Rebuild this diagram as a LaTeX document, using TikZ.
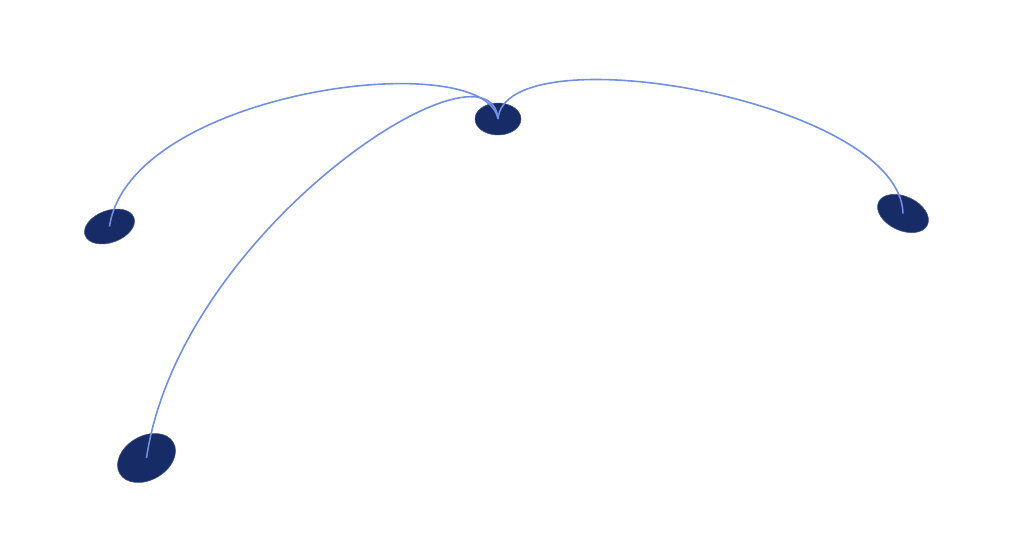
\documentclass[tikz,border=0pt]{standalone}
\usepackage{tikz}
\usetikzlibrary{shapes.geometric, positioning}
\definecolor{blobnavy}{RGB}{23,43,102}
\definecolor{linkblue}{RGB}{112,142,226}
\tikzset{
    blob/.style={ellipse, fill=blobnavy, draw=blobnavy!80!white, line width=0.3pt, inner sep=0pt},
    link/.style={draw=linkblue, line width=0.9pt}
}
\begin{document}
\begin{tikzpicture}[x=0.02cm, y=-0.02cm]
        \useasboundingbox (0,0) rectangle (1010,557);

        % Blobs
        \node (hub) [blob, minimum width=0.92cm, minimum height=0.64cm] at (498,119) {};
        \node (left) [blob, minimum width=1.04cm, minimum height=0.64cm, rotate=20] at (109.5,226.5) {};
        \node (low) [blob, minimum width=1.24cm, minimum height=0.88cm, rotate=30] at (146.5,458) {};
        \node (right) [blob, minimum width=1.08cm, minimum height=0.68cm, rotate=-25] at (903,213.5) {};

        % Links from the hub
        \draw[link] (hub.center) .. controls (485,45) and (130,90) .. (left.center);
        \draw[link] (hub.center) .. controls (490,28) and (180,230) .. (low.center);
        \draw[link] (hub.center) .. controls (505,32) and (900,100) .. (right.center);
    \end{tikzpicture}
\end{document}
